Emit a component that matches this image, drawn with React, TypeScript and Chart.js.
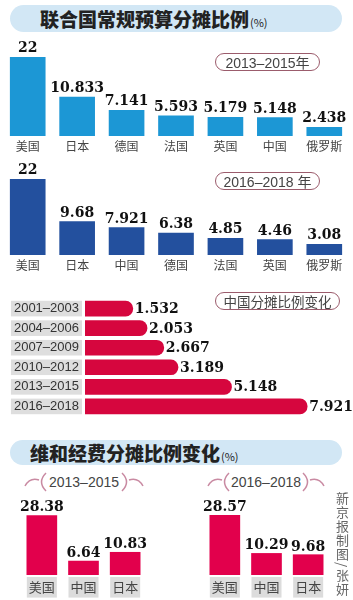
import React, { useEffect, useRef } from 'react';
import { Chart, registerables } from 'chart.js';

Chart.register(...registerables);

// ---- data ----
const regular1315Countries = ['美国', '日本', '德国', '法国', '英国', '中国', '俄罗斯'];
const regular1315Shares = [22, 10.833, 7.141, 5.593, 5.179, 5.148, 2.438];
const regular1618Countries = ['美国', '日本', '中国', '德国', '法国', '英国', '俄罗斯'];
const regular1618Shares = [22, 9.68, 7.921, 6.38, 4.85, 4.46, 3.08];
const chinaPeriods = ['2001–2003', '2004–2006', '2007–2009', '2010–2012', '2013–2015', '2016–2018'];
const chinaShares = [1.532, 2.053, 2.667, 3.189, 5.148, 7.921];
const peaceCountries = ['美国', '中国', '日本'];
const peace1315Shares = [28.38, 6.64, 10.83];
const peace1618Shares = [28.57, 10.29, 9.68];

const SERIF = '"DejaVu Serif", "Liberation Serif", serif';
const CJK = '"Noto Sans CJK SC", "Noto Sans", sans-serif';
const SANS = '"Liberation Sans", Arial, sans-serif';

const valueLabelPlugin = {
  id: 'valueLabel',
  afterDatasetsDraw(chart: any, _args: any, opts: any) {
    const ctx = chart.ctx;
    const meta = chart.getDatasetMeta(0);
    const data = chart.data.datasets[0].data;
    ctx.save();
    ctx.font = opts.font;
    ctx.fillStyle = opts.color || '#111';
    meta.data.forEach((el: any, i: number) => {
      const txt = String(data[i]);
      if (opts.horizontal) {
        ctx.textAlign = 'left';
        ctx.textBaseline = 'middle';
        ctx.fillText(txt, el.x + opts.offset, el.y + 1);
      } else {
        ctx.textAlign = 'center';
        ctx.textBaseline = 'alphabetic';
        ctx.fillText(txt, el.x, el.y - opts.offset);
      }
    });
    ctx.restore();
  },
};

function columnConfig(labels: string[], values: number[], color: string, p: any) {
  return {
    type: 'bar',
    data: {
      labels,
      datasets: [{ data: values, backgroundColor: color, barThickness: p.barThickness, borderWidth: 0 }],
    },
    options: {
      responsive: false,
      animation: false,
      devicePixelRatio: 1,
      layout: { padding: p.padding },
      plugins: {
        legend: { display: false },
        tooltip: { enabled: false },
        valueLabel: { font: p.valueFont, offset: p.offset, horizontal: false },
      },
      scales: {
        x: {
          grid: { display: false, drawTicks: false },
          border: { display: false },
          afterFit: (s: any) => { s.height = p.axisHeight; },
          ticks: {
            font: { family: CJK, size: p.tickSize },
            color: '#444',
            padding: p.tickPadding,
            autoSkip: false,
            maxRotation: 0,
            showLabelBackdrop: !!p.backdrop,
            backdropColor: '#dcdcdc',
            backdropPadding: p.backdropPadding || 0,
          },
        },
        y: { display: false, min: 0, max: p.max },
      },
    },
    plugins: [valueLabelPlugin],
  } as any;
}

function chinaConfig() {
  return {
    type: 'bar',
    data: {
      labels: chinaPeriods,
      datasets: [{
        data: chinaShares,
        base: -0.22,
        backgroundColor: '#d6063e',
        barThickness: 15,
        borderRadius: 8,
        borderSkipped: 'start',
        borderWidth: 0,
      }],
    },
    options: {
      indexAxis: 'y',
      responsive: false,
      animation: false,
      devicePixelRatio: 1,
      layout: { padding: { top: 6, bottom: 4, left: 0, right: 0 } },
      plugins: {
        legend: { display: false },
        tooltip: { enabled: false },
        valueLabel: { font: `bold 14px ${SERIF}`, offset: 2, horizontal: true },
      },
      scales: {
        x: { display: false, min: -0.22, max: 9.6 },
        y: {
          grid: { display: false, drawTicks: false },
          border: { display: false },
          afterFit: (s: any) => { s.width = 85; },
          ticks: {
            font: { family: SANS, size: 13 },
            color: '#333',
            padding: 6,
            showLabelBackdrop: true,
            backdropColor: '#dedede',
            backdropPadding: { top: 0, bottom: 0, left: 3, right: 3 },
          },
        },
      },
    },
    plugins: [valueLabelPlugin],
  } as any;
}

function Pill({ left, top, width, height, text, fontSize }: any) {
  return (
    <div
      style={{
        position: 'absolute', left, top, width, height, boxSizing: 'border-box',
        border: '1.5px solid #9b5c6c', borderRadius: height / 2, background: '#fff',
        display: 'flex', alignItems: 'center', justifyContent: 'center',
        fontFamily: `"Liberation Sans", Arial, "Noto Sans CJK SC", sans-serif`, fontSize, color: '#444', whiteSpace: 'nowrap',
      }}
    >
      {text}
    </div>
  );
}

function BracketPill({ left, top, width, text }: any) {
  const h = 22;
  const c = '#c98aa2';
  return (
    <div style={{ position: 'absolute', left, top, width, height: h }}>
      <svg width={width} height={h} style={{ position: 'absolute', left: 0, top: 0 }}>
        <path d={`M1 15 Q6 6 15 9`} stroke={c} strokeWidth={1.5} fill="none" />
        <path d={`M22 2 Q13 11 22 20`} stroke={c} strokeWidth={1.5} fill="none" />
        <path d={`M${width - 22} 2 Q${width - 13} 11 ${width - 22} 20`} stroke={c} strokeWidth={1.5} fill="none" />
        <path d={`M${width - 15} 9 Q${width - 6} 6 ${width - 1} 15`} stroke={c} strokeWidth={1.5} fill="none" />
      </svg>
      <div
        style={{
          position: 'absolute', left: 0, top: 0, width, height: h,
          display: 'flex', alignItems: 'center', justifyContent: 'center',
          fontFamily: SANS, fontSize: 14, color: '#444',
        }}
      >
        {text}
      </div>
    </div>
  );
}

function Banner({ top, height, text, fontSize, textLeft }: any) {
  return (
    <div
      style={{
        position: 'absolute', left: 10, top, width: 332, height, borderRadius: height / 2,
        background: '#d2e7f5', display: 'flex', alignItems: 'center',
      }}
    >
      <span style={{ marginLeft: textLeft, fontFamily: CJK, fontWeight: 900, fontSize, color: '#222', whiteSpace: 'nowrap' }}>
        {text}
        <span style={{ fontSize: 11, fontWeight: 400, marginLeft: 1 }}>(%)</span>
      </span>
    </div>
  );
}

export default function App() {
  const r1 = useRef<HTMLCanvasElement>(null);
  const r2 = useRef<HTMLCanvasElement>(null);
  const r3 = useRef<HTMLCanvasElement>(null);
  const r4 = useRef<HTMLCanvasElement>(null);
  const r5 = useRef<HTMLCanvasElement>(null);

  useEffect(() => {
    const charts: Chart[] = [];
    charts.push(new Chart(r1.current!, columnConfig(regular1315Countries, regular1315Shares, '#1c97d5', {
      barThickness: 35, padding: { top: 22, left: 3, right: 4, bottom: 0 }, axisHeight: 18,
      tickSize: 12, tickPadding: 3, max: 22, valueFont: `bold 14px ${SERIF}`, offset: 5,
    })));
    charts.push(new Chart(r2.current!, columnConfig(regular1618Countries, regular1618Shares, '#23509e', {
      barThickness: 35, padding: { top: 22, left: 3, right: 4, bottom: 0 }, axisHeight: 18,
      tickSize: 12, tickPadding: 3, max: 22, valueFont: `bold 14px ${SERIF}`, offset: 5,
    })));
    charts.push(new Chart(r3.current!, chinaConfig()));
    charts.push(new Chart(r4.current!, columnConfig(peaceCountries, peace1315Shares, '#e2004c', {
      barThickness: 30, padding: { top: 20, left: 21, right: 30, bottom: 0 }, axisHeight: 25,
      tickSize: 13, tickPadding: 4, max: 28.6, valueFont: `bold 14px ${SERIF}`, offset: 4,
      backdrop: true, backdropPadding: { top: 2, bottom: 3, left: 2, right: 2 },
    })));
    charts.push(new Chart(r5.current!, columnConfig(peaceCountries, peace1618Shares, '#e2004c', {
      barThickness: 30, padding: { top: 20, left: 28, right: 24, bottom: 0 }, axisHeight: 25,
      tickSize: 13, tickPadding: 4, max: 28.6, valueFont: `bold 14px ${SERIF}`, offset: 4,
      backdrop: true, backdropPadding: { top: 2, bottom: 3, left: 2, right: 2 },
    })));
    return () => charts.forEach((c) => c.destroy());
  }, []);

  const cs = (left: number, top: number): React.CSSProperties => ({ position: 'absolute', left, top });

  return (
    <div style={{ position: 'absolute', left: 0, top: 0, width: 353, height: 600, background: '#fff', overflow: 'hidden' }}>
      <Banner top={5} height={27} text="联合国常规预算分摊比例" fontSize={19} textLeft={30} />
      <canvas ref={r1} width={353} height={119} style={cs(0, 35)} />
      <Pill left={215} top={53} width={105} height={18} text="2013–2015年" fontSize={14} />
      <canvas ref={r2} width={353} height={116} style={cs(0, 157)} />
      <Pill left={215} top={172} width={105} height={18} text="2016–2018 年" fontSize={14} />
      <canvas ref={r3} width={353} height={145} style={cs(0, 285)} />
      <Pill left={215} top={292} width={125} height={18} text="中国分摊比例变化" fontSize={13.5} />
      <Banner top={440} height={25} text="维和经费分摊比例变化" fontSize={19} textLeft={20} />
      <BracketPill left={24} top={471} width={120} text="2013–2015" />
      <BracketPill left={207} top={471} width={118} text="2016–2018" />
      <canvas ref={r4} width={176} height={105} style={cs(0, 495)} />
      <canvas ref={r5} width={177} height={105} style={cs(176, 495)} />
      <div
        style={{
          position: 'absolute', left: 334, top: 492, writingMode: 'vertical-rl',
          fontFamily: CJK, fontSize: 13, color: '#666', lineHeight: '16px', letterSpacing: 1,
        }}
      >
        新京报制图/张妍
      </div>
    </div>
  );
}
